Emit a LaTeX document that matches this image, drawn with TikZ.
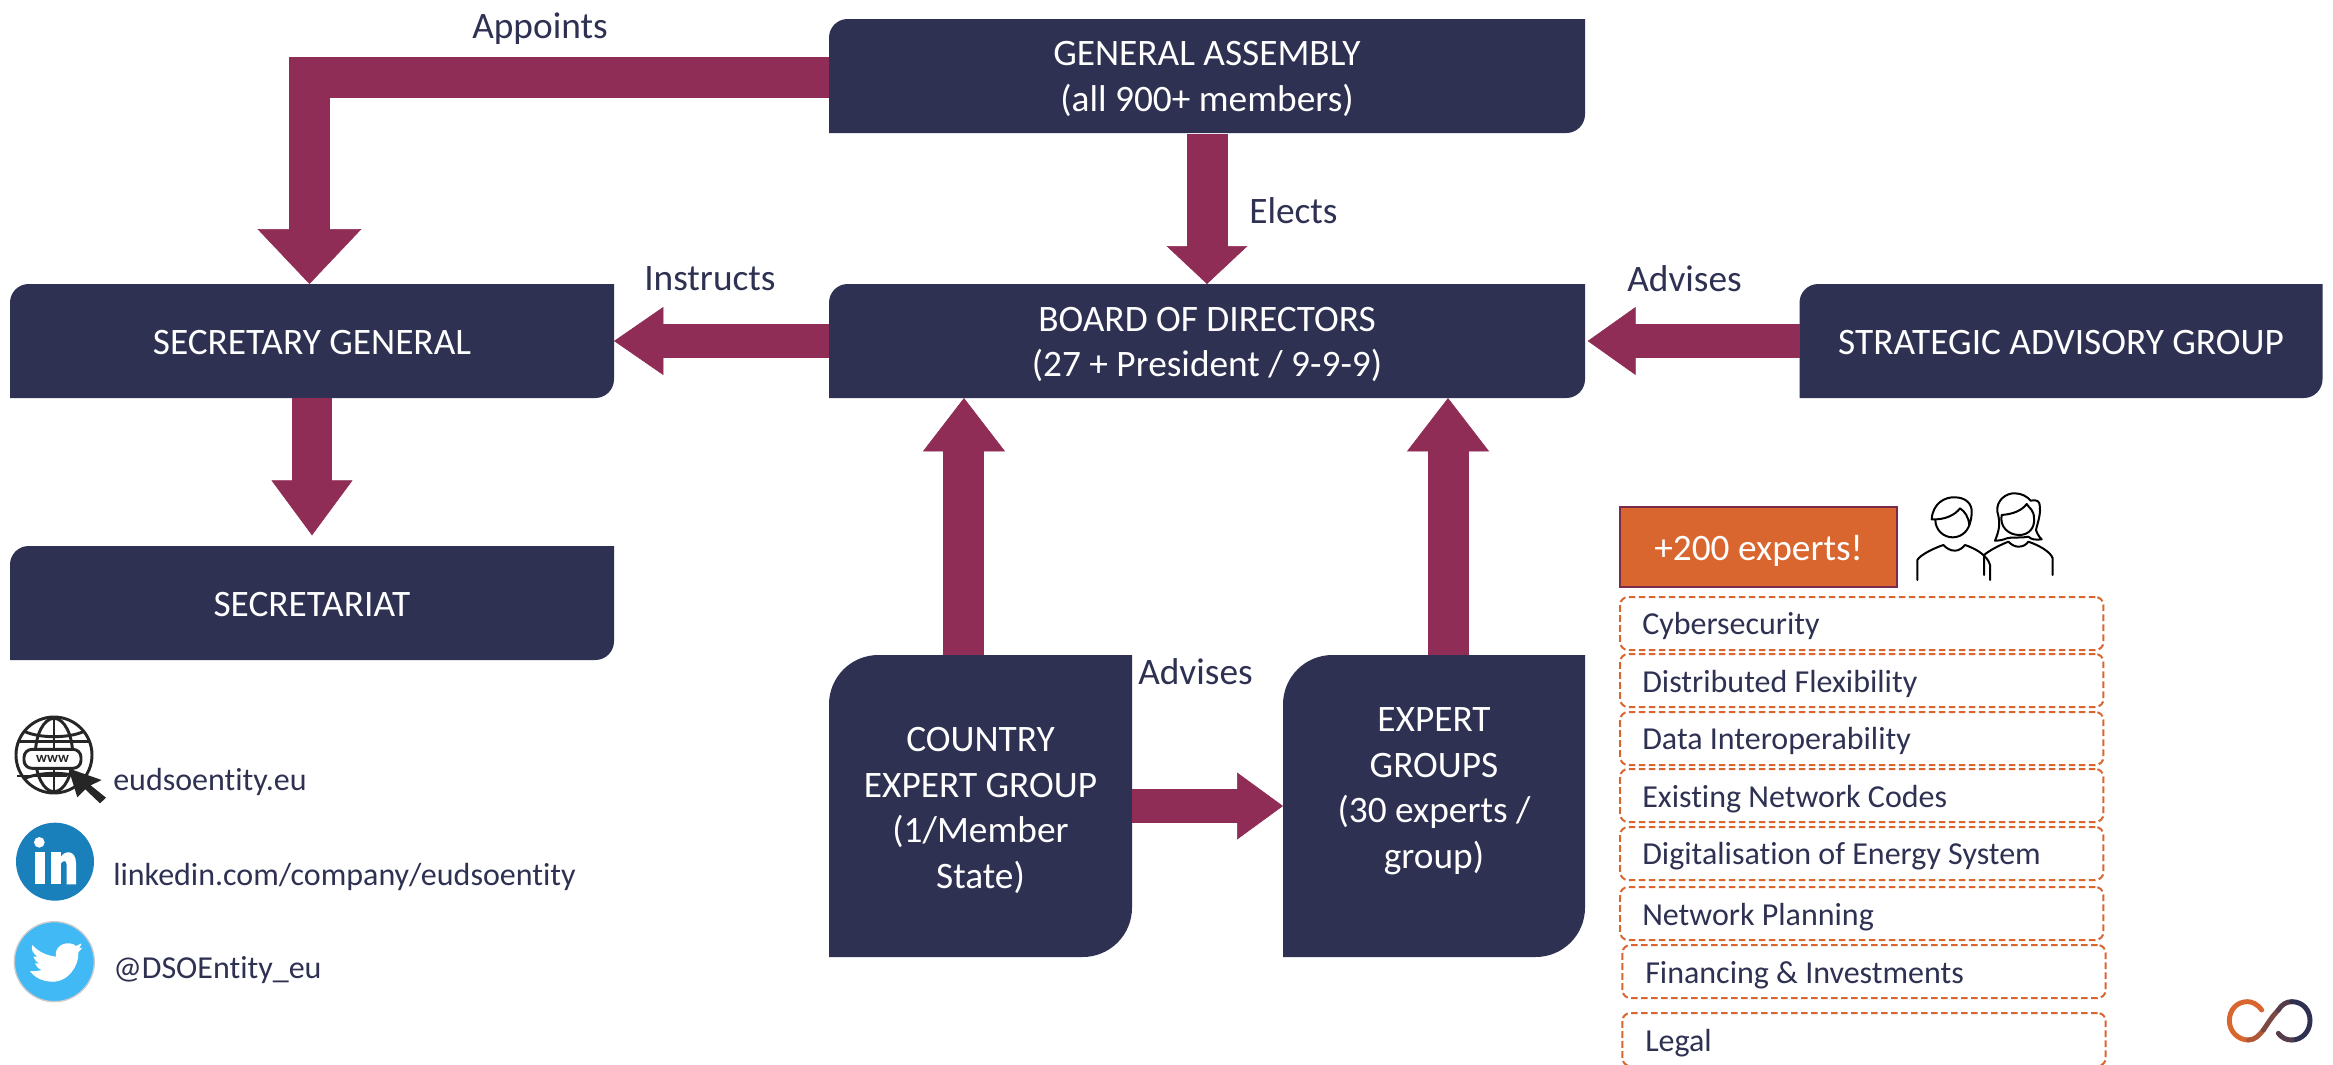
\documentclass[tikz,border=0pt]{standalone}
\usepackage{fontspec}
\setmainfont[Ligatures=NoCommon]{Carlito}
\usetikzlibrary{arrows.meta,backgrounds,calc}
\definecolor{navy}{HTML}{2E3152}
\definecolor{maroon}{HTML}{8F2D56}
\definecolor{orng}{HTML}{D9652F}
\definecolor{orngedge}{HTML}{7A2A4A}
\definecolor{lnkd}{HTML}{1A80BB}
\definecolor{twit}{HTML}{41B9F5}
\newcommand{\toph}[1]{\rule{0pt}{#1}}
\newcommand{\both}[1]{\rule[-#1]{0pt}{0pt}}
\tikzset{
  x=0.75pt,y=-0.75pt,
  box/.style={inner sep=0pt,outer sep=0pt,text=white,align=center,
     font=\fontsize{28}{34.2}\selectfont},
  blockarrow/.style n args={3}{draw=maroon,line width=#1,
     -{Triangle[length=#2,width=#3,fill=maroon,color=maroon,line width=0.5pt]},
     postaction={draw=maroon,-,shorten >=22pt}},
  lbl/.style={inner sep=0pt,anchor=base west,text=navy,font=\fontsize{28}{33.75}\selectfont},
  contact/.style={inner sep=0pt,anchor=base west,text=navy,font=\fontsize{24}{28}\selectfont},
  topic/.style={draw=orng,line width=1.5pt,dash pattern=on 5pt off 2.5pt,rounded corners=6pt,
     minimum width=362.5pt,minimum height=39.75pt,inner sep=0pt,outer sep=0pt},
  topictext/.style={inner sep=0pt,anchor=base west,text=navy,font=\fontsize{24}{28}\selectfont},
  icon/.style={line width=1.5pt,line cap=round,line join=round,draw=black},
}
\newcommand{\diagfill}[2]{%
  \fill[navy] ([xshift=#2pt]#1.north west) -- (#1.north east) -- ([yshift=#2pt]#1.south east)
    arc[start angle=0,end angle=-90,radius=#2pt] -- (#1.south west) -- ([yshift=-#2pt]#1.north west)
    arc[start angle=180,end angle=90,radius=#2pt] -- cycle;}
\begin{document}
\begin{tikzpicture}
\useasboundingbox (0,0) rectangle (2333,1064);

% Boxes
\node[box,minimum width=567pt,minimum height=85.5pt] (ga) at (1207,76) {\toph{22.5pt}GENERAL ASSEMBLY\\(all 900+ members)};
\node[box,minimum width=567pt,minimum height=85.5pt] (board) at (1207,341) {\toph{23.6pt}BOARD OF DIRECTORS\\(27 + President / 9-9-9)};
\node[box,minimum width=453pt,minimum height=85.5pt] (sg) at (312,341) {\toph{20.4pt}SECRETARY GENERAL};
\node[box,minimum width=392.25pt,minimum height=85.5pt] (sag) at (2061,341) {\toph{20.4pt}STRATEGIC ADVISORY GROUP};
\node[box,minimum width=453pt,minimum height=85.5pt] (sec) at (312,603) {\toph{20.4pt}SECRETARIAT};
\node[box,minimum width=227.25pt,minimum height=226.5pt] (country) at (980.5,806) {\toph{24.8pt}COUNTRY\\EXPERT GROUP\\(1/Member\\State)};
\node[box,minimum width=226.5pt,minimum height=226.5pt] (expert) at (1434,806) {EXPERT\\GROUPS\\(30 experts /\\group)\both{27pt}};
\begin{scope}[on background layer]
  \fill[white] (0,0) rectangle (2333,1064);
  \diagfill{ga}{14}\diagfill{board}{14}\diagfill{sg}{14}\diagfill{sag}{14}\diagfill{sec}{14}
  \diagfill{country}{37}\diagfill{expert}{37}
\end{scope}

% Block arrows
\draw[blockarrow={30.75pt}{41.25pt}{78pt}] ([yshift=-1.1pt]ga.west) -| ([xshift=-1.9pt]sg.north);
\draw[blockarrow={30.75pt}{28.5pt}{60.75pt},shorten <=0.75pt] (ga.south) -- (board.north);
\draw[blockarrow={25.5pt}{37pt}{51pt}] (board.west) -- (sg.east);
\draw[blockarrow={25.5pt}{36pt}{51pt}] (sag.west) -- ([xshift=2pt]board.east);
\draw[blockarrow={30pt}{41.25pt}{60.75pt}] (sg.south) -- ([yshift=8pt]sec.north);
\draw[blockarrow={30.75pt}{40pt}{61.5pt}] ([xshift=-12.4pt]country.north) -- ([xshift=-12.4pt]country.north |- board.south);
\draw[blockarrow={30.75pt}{40pt}{61.5pt}] ([xshift=10.5pt]expert.north) -- ([xshift=10.5pt]expert.north |- board.south);
\draw[blockarrow={25.5pt}{34.5pt}{50.25pt}] (country.east) -- (expert.west);

% Labels
\node[lbl] (lappoints) at (472,38) {Appoints};
\node[lbl] (linstructs) at (644,290.5) {Instructs};
\node[lbl] (lelects) at (1249,223.5) {Elects};
\node[lbl] (ladvises) at (1627,291.5) {Advises};
\node[lbl] (ladvises2) at (1138,684.5) {Advises};

% Experts
\node[draw=orngedge,fill=orng,line width=1.5pt,minimum width=207.75pt,minimum height=60pt,inner sep=0pt,
   text=white,font=\fontsize{28}{33.75}\selectfont] (plus) at (1758.5,546.5) {\toph{25pt}+200 experts!};

\node[topic] (t1) at (1861.75,623.5) {};
\node[topic] (t2) at (1861.75,680.5) {};
\node[topic] (t3) at (1861.75,738.5) {};
\node[topic] (t4) at (1861.75,795.5) {};
\node[topic] (t5) at (1861.75,853.5) {};
\node[topic] (t6) at (1861.75,913.5) {};
\node[topic] (t7) at (1864,971.5) {};
\node[topic] (t8) at (1864,1039.5) {};
\node[topictext] at (1642,634.5) {Cybersecurity};
\node[topictext] at (1642,692.5) {Distributed Flexibility};
\node[topictext] at (1642,749.5) {Data Interoperability};
\node[topictext] at (1642,807.5) {Existing Network Codes};
\node[topictext] at (1642,864.5) {Digitalisation of Energy System};
\node[topictext] at (1642,925.5) {Network Planning};
\node[topictext] at (1645,983.5) {Financing \& Investments};
\node[topictext] at (1645,1051.5) {Legal};

% People icon
\begin{scope}[shift={(1900,480)},x=0.25pt,y=-0.25pt,icon]
  \draw (158,120) circle[radius=52*0.25pt];
  \fill[white,draw=black] (95,118) .. controls (98,70) and (135,50) .. (165,52) .. controls (195,52) and (218,70) .. (215,100) .. controls (214,115) and (212,125) .. (208,135) .. controls (205,110) and (195,95) .. (180,85) .. controls (165,105) and (135,120) .. (95,118) -- cycle;
  \draw (52,300) -- (52,240) .. controls (60,225) and (100,205) .. (130,195) .. controls (140,205) and (150,212) .. (165,212) .. controls (178,212) and (188,203) .. (195,195) .. controls (225,205) and (262,225) .. (270,255) -- (270,300);
  \fill[white,draw=black] (285,182) .. controls (298,150) and (302,130) .. (292,95) .. controls (288,60) and (320,38) .. (345,40) .. controls (365,40) and (382,50) .. (392,62) .. controls (402,60) and (415,60) .. (418,70) .. controls (425,100) and (412,130) .. (408,150) .. controls (412,162) and (418,172) .. (425,178) .. controls (400,180) and (395,178) .. (385,170) .. controls (360,175) and (335,170) .. (320,175) .. controls (310,180) and (295,182) .. (285,182) -- cycle;
  \fill[white,draw=black] (305,105) .. controls (340,102) and (365,92) .. (380,72) .. controls (388,85) and (402,90) .. (402,115) .. controls (405,145) and (385,165) .. (358,165) .. controls (325,165) and (298,140) .. (305,105) -- cycle;
  \draw (252,285) -- (252,225) .. controls (270,210) and (300,195) .. (325,185) .. controls (335,195) and (345,200) .. (355,200) .. controls (368,200) and (378,195) .. (385,185) .. controls (415,195) and (452,215) .. (458,235) -- (458,285);
\end{scope}

% Logo
\begin{scope}[shift={(2210,985)},x=0.25pt,y=-0.25pt,line width=3.7pt,line cap=round]
  \draw[orng] (155,75) .. controls (140,55) and (125,50) .. (112,50) .. controls (80,50) and (58,75) .. (58,107) .. controls (58,140) and (85,165) .. (115,165);
  \draw[color=orng!75!navy] (115,165) .. controls (135,165) and (148,150) .. (160,135);
  \draw[color=orng!45!navy] (160,135) .. controls (172,118) and (185,95) .. (205,75);
  \draw[color=orng!22!navy] (205,75) .. controls (215,58) and (230,50) .. (245,50);
  \draw[color=navy] (245,50) .. controls (278,50) and (300,75) .. (300,107) .. controls (300,140) and (275,165) .. (245,165);
  \draw[color=orng!22!navy] (245,165) .. controls (228,165) and (215,158) .. (205,145);
\end{scope}

% Contact icons
\begin{scope}[shift={(0,700)},x=0.25pt,y=-0.25pt,line width=2.2pt,draw=black!85]
  \draw (162,165) circle[radius=28.5pt];
  \draw (162,55) -- (162,275);
  \draw (162,165) ellipse[x radius=14pt,y radius=27.5pt];
  \draw (75,95) .. controls (120,115) and (205,115) .. (250,95);
  \draw (75,235) .. controls (120,215) and (205,215) .. (250,235);
  \draw (55,125) -- (270,125);
  \fill[white,draw=black!85,rounded corners=6pt] (72,148) rectangle (243,205);
  \node[inner sep=0pt,text=black!85,font=\fontsize{11}{11}\bfseries\selectfont] (www) at (158,176) {www};
  \draw (52,228) -- (200,228);
  \fill[black!85] (205,205) -- (305,240) -- (272,256) -- (318,293) -- (300,310) -- (256,268) -- (232,292) -- cycle;
\end{scope}
\begin{scope}[shift={(0,815)},x=0.25pt,y=-0.25pt]
  \fill[lnkd] (165,140) circle[radius=29.25pt];
  \fill[white] (118,82) circle[radius=4pt];
  \fill[white] (105,110) rectangle (135,208);
  \fill[white] (153,110) rectangle (183,208);
  \fill[white] (183,125) .. controls (195,105) and (228,105) .. (228,145) -- (228,208) -- (200,208) -- (200,150) .. controls (200,135) and (190,135) .. (183,145) -- cycle;
  \fill[twit,draw=black!20,line width=1pt] (163,440) circle[radius=30pt];
  \fill[white] (97,390) .. controls (115,410) and (140,422) .. (168,425) .. controls (163,400) and (185,382) .. (210,385) .. controls (218,385) and (224,390) .. (228,393) -- (245,385) -- (238,400) -- (247,398) -- (235,412) .. controls (238,450) and (205,505) .. (150,500) .. controls (130,498) and (105,490) .. (90,468) .. controls (105,470) and (115,468) .. (125,465) .. controls (115,460) and (108,455) .. (105,445) -- (118,445) .. controls (108,440) and (102,432) .. (100,425) -- (112,425) .. controls (100,415) and (92,405) .. (97,390) -- cycle;
\end{scope}
\node[contact] (web) at (113,790.5) {eudsoentity.eu};
\node[contact] (li) at (113,885.5) {linkedin.com/company/eudsoentity};
\node[contact] (tw) at (113,978.5) {@DSOEntity\_eu};
\end{tikzpicture}
\end{document}
